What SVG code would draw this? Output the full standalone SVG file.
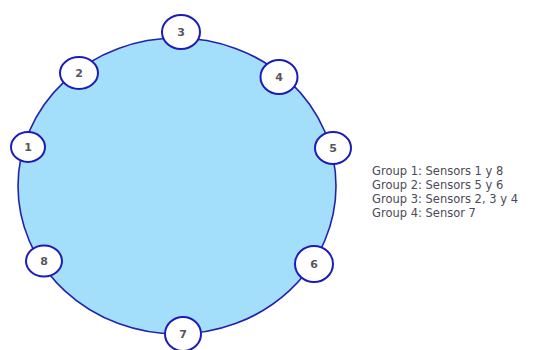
<svg xmlns="http://www.w3.org/2000/svg" width="536" height="350" viewBox="0 0 536 350">
<style>
.ring{fill:#a3defb;stroke:#2222aa;stroke-width:1.6}
.node ellipse{fill:#ffffff;stroke:#1c1cb8;stroke-width:2}
.node text{font-family:"DejaVu Sans","Liberation Sans",sans-serif;font-size:11px;font-weight:bold;fill:#555560;text-anchor:middle}
.legend{font-family:"DejaVu Sans","Liberation Sans",sans-serif;font-size:11.5px;fill:#4a4a58}
</style>
<rect width="536" height="350" fill="#ffffff"/>
<g id="connectors">
<ellipse class="ring" cx="177" cy="186" rx="159" ry="148"/>
</g>
<g id="n1" class="node"><ellipse cx="28" cy="147" rx="17" ry="15"/><text x="28" y="151">1</text></g>
<g id="n2" class="node"><ellipse cx="79" cy="73" rx="19" ry="16"/><text x="79" y="77">2</text></g>
<g id="n3" class="node"><ellipse cx="181" cy="32" rx="19" ry="17"/><text x="181" y="36">3</text></g>
<g id="n4" class="node"><ellipse cx="279" cy="77" rx="18.5" ry="17"/><text x="279" y="81">4</text></g>
<g id="n5" class="node"><ellipse cx="333" cy="148" rx="18" ry="16"/><text x="333" y="152">5</text></g>
<g id="n6" class="node"><ellipse cx="314" cy="264" rx="19" ry="18"/><text x="314" y="268">6</text></g>
<g id="n7" class="node"><ellipse cx="183" cy="334" rx="18" ry="17"/><text x="183" y="338">7</text></g>
<g id="n8" class="node"><ellipse cx="44" cy="261" rx="18" ry="15.5"/><text x="44" y="265">8</text></g>
<g id="legend" class="legend">
<text x="372" y="175">Group 1: Sensors 1 y 8</text>
<text x="372" y="189">Group 2: Sensors 5 y 6</text>
<text x="372" y="203">Group 3: Sensors 2, 3 y 4</text>
<text x="372" y="217">Group 4: Sensor 7</text>
</g>
</svg>
